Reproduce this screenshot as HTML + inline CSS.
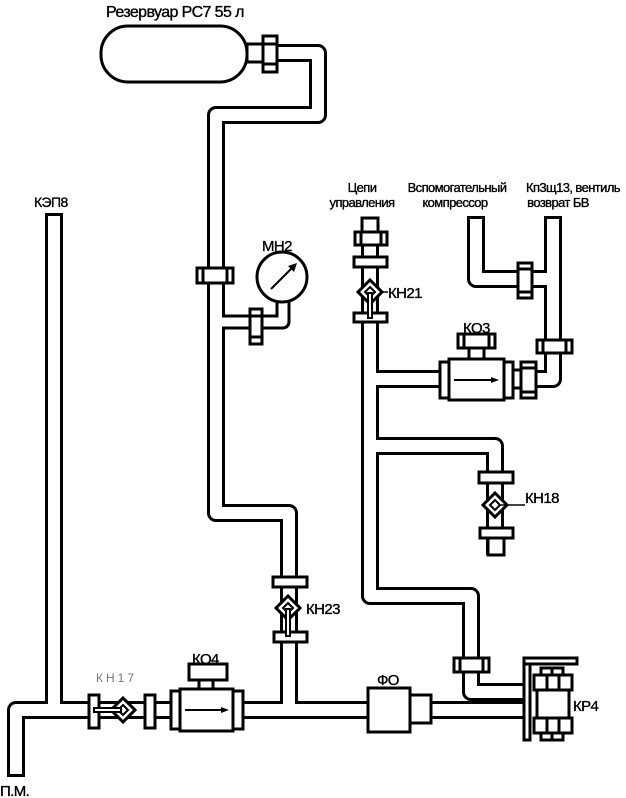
<!DOCTYPE html>
<html><head><meta charset="utf-8"><style>
html,body{margin:0;padding:0;background:#fff}
svg{display:block}
text{font-family:"Liberation Sans",sans-serif;fill:#000;stroke:#000;stroke-width:0.35}
</style></head><body>
<svg width="626" height="798" viewBox="0 0 626 798" xmlns="http://www.w3.org/2000/svg">
<g fill="none" stroke="#000" stroke-width="18" stroke-linejoin="round">
<path d="M262 53 H318 V115 H216 V513 H289 V710"/>
<path d="M16 777 V710 H523"/>
<path d="M54 213 V710"/>
<path d="M216 322 H283 V300" stroke-width="15"/>
<path d="M370 222 V596 H471 V692 H523"/>
<path d="M370 379 H440"/>
<path d="M370 446 H495 V555"/>
<path d="M513 379 H553 V216"/>
<path d="M476 216 V279 H553"/>
</g>
<g fill="none" stroke="#fff" stroke-width="12" stroke-linejoin="round">
<path d="M262 53 H318 V115 H216 V513 H289 V710"/>
<path d="M16 774 V710 H523"/>
<path d="M54 216 V710"/>
<path d="M216 322 H283 V300" stroke-width="9"/>
<path d="M370 222 V596 H471 V692 H523"/>
<path d="M370 379 H440"/>
<path d="M370 446 H495 V552"/>
<path d="M513 379 H553 V219"/>
<path d="M476 219 V279 H553"/>
</g>
<g fill="#fff" stroke="#000" stroke-width="3">
<rect x="101" y="26" width="146" height="56" rx="27"/>
<rect x="247" y="44" width="16" height="18"/>
<rect x="263" y="36" width="14" height="36"/>
<line x1="263" y1="44" x2="277" y2="44"/><line x1="263" y1="64" x2="277" y2="64"/>
<rect x="197" y="268" width="36" height="15"/>
<line x1="203" y1="268" x2="203" y2="283"/><line x1="227" y1="268" x2="227" y2="283"/>
<rect x="250" y="309" width="12" height="35"/>
<line x1="250" y1="316" x2="262" y2="316"/><line x1="250" y1="337" x2="262" y2="337"/>
<circle cx="282" cy="277" r="25"/>
<rect x="273" y="577" width="34" height="10"/>
<rect x="274" y="632" width="33" height="10"/>
<rect x="89" y="695" width="10" height="33"/>
<rect x="145" y="695" width="10" height="33"/>
<rect x="189" y="664" width="38" height="16"/>
<rect x="199" y="680" width="14" height="9"/>
<rect x="171" y="691" width="10" height="38"/>
<rect x="180" y="689" width="53" height="42"/>
<rect x="233" y="691" width="10" height="38"/>
<rect x="368" y="688" width="42" height="44"/>
<rect x="410" y="695" width="21" height="28"/>
<rect x="524" y="658" width="6" height="82"/>
<rect x="524" y="658" width="53" height="6"/>
<rect x="541" y="668" width="22" height="8"/>
<rect x="534" y="675" width="38" height="15"/>
<rect x="537" y="690" width="32" height="28"/>
<rect x="534" y="718" width="38" height="15"/>
<rect x="541" y="733" width="22" height="7"/>
<line x1="547" y1="675" x2="547" y2="690"/><line x1="559" y1="675" x2="559" y2="690"/>
<line x1="547" y1="718" x2="547" y2="733"/><line x1="559" y1="718" x2="559" y2="733"/>
<line x1="552" y1="668" x2="552" y2="676"/><line x1="552" y1="733" x2="552" y2="740"/>
<rect x="454" y="658" width="35" height="14"/>
<line x1="460" y1="658" x2="460" y2="672"/><line x1="483" y1="658" x2="483" y2="672"/>
<rect x="362" y="218" width="16" height="14"/>
<rect x="355" y="232" width="32" height="13"/>
<line x1="361" y1="232" x2="361" y2="245"/><line x1="381" y1="232" x2="381" y2="245"/>
<rect x="354" y="257" width="33" height="10"/>
<rect x="354" y="313" width="33" height="9"/>
<rect x="458" y="334" width="37" height="14"/>
<line x1="464" y1="334" x2="464" y2="348"/><line x1="489" y1="334" x2="489" y2="348"/>
<rect x="469" y="348" width="15" height="11"/>
<rect x="440" y="362" width="9" height="36"/>
<rect x="449" y="359" width="55" height="41"/>
<rect x="504" y="362" width="9" height="36"/>
<rect x="513" y="370" width="8" height="18"/>
<rect x="521" y="362" width="15" height="36"/>
<line x1="521" y1="368" x2="536" y2="368"/><line x1="521" y1="392" x2="536" y2="392"/>
<rect x="537" y="340" width="35" height="13"/>
<line x1="543" y1="340" x2="543" y2="353"/><line x1="566" y1="340" x2="566" y2="353"/>
<rect x="518" y="263" width="14" height="35"/>
<line x1="518" y1="269" x2="532" y2="269"/><line x1="518" y1="292" x2="532" y2="292"/>
<rect x="479" y="472" width="34" height="11"/>
<rect x="480" y="528" width="33" height="10"/>
<rect x="488" y="538" width="16" height="17"/>
</g>
<g stroke="#000" stroke-width="2" fill="#000">
<line x1="185" y1="710" x2="222" y2="710"/><path d="M229 710 l-8 -3 v6 z" stroke="none"/>
<line x1="454" y1="380" x2="492" y2="380"/><path d="M499 380 l-8 -3 v6 z" stroke="none"/>
<line x1="271" y1="289" x2="292" y2="268"/><path d="M297 263 l-9 3 l6 6 z" stroke="none"/>
</g>
<g stroke="#000" stroke-width="3" fill="#fff">
<path d="M370 280 l12 12 l-12 12 l-12 -12 z"/>
<path d="M288 596 l12 12 l-12 12 l-12 -12 z"/>
<path d="M495 493 l12 12 l-12 12 l-12 -12 z"/>
<path d="M123 698 l12 12 l-12 12 l-12 -12 z"/>
</g>
<g stroke="#000" stroke-width="2" fill="#fff">
<path d="M370 287 l5 5 l-5 5 l-5 -5 z"/>
<path d="M288 603 l5 5 l-5 5 l-5 -5 z"/>
<path d="M495 500 l5 5 l-5 5 l-5 -5 z"/>
<path d="M123 705 l5 5 l-5 5 l-5 -5 z"/>
<rect x="368" y="293" width="4" height="25"/>
<rect x="286" y="609" width="4" height="27"/>
<rect x="94" y="708" width="27" height="4"/>
<line x1="501" y1="505" x2="525" y2="505" stroke-width="1.5"/>
<line x1="382" y1="292" x2="388" y2="292" stroke-width="1.5"/>
</g>
<g letter-spacing="-0.6">
<text x="106" y="17" font-size="16">Резервуар РС7 55 л</text>
<text x="34" y="207" font-size="14">КЭП8</text>
<text x="262" y="251" font-size="15">МН2</text>
<text x="362" y="192" font-size="13" text-anchor="middle">Цепи</text>
<text x="362" y="207" font-size="13" text-anchor="middle">управления</text>
<text x="457" y="192" font-size="13" text-anchor="middle">Вспомогательный</text>
<text x="455" y="207" font-size="13" text-anchor="middle">компрессор</text>
<text x="573" y="192" font-size="13" text-anchor="middle">Кп3щ13, вентиль</text>
<text x="558" y="207" font-size="13" text-anchor="middle">возврат БВ</text>
<text x="388" y="298" font-size="15">КН21</text>
<text x="463" y="333" font-size="15">КО3</text>
<text x="525" y="503" font-size="15">КН18</text>
<text x="306" y="614" font-size="15">КН23</text>
<text x="192" y="664" font-size="15">КО4</text>
<text x="96" y="682" font-size="12" style="fill:#777;stroke:none" letter-spacing="3">КН17</text>
<text x="377" y="685" font-size="15">ФО</text>
<text x="573" y="711" font-size="15">КР4</text>
<text x="0" y="796" font-size="15">П.М.</text>
</g>
</svg>
</body></html>
